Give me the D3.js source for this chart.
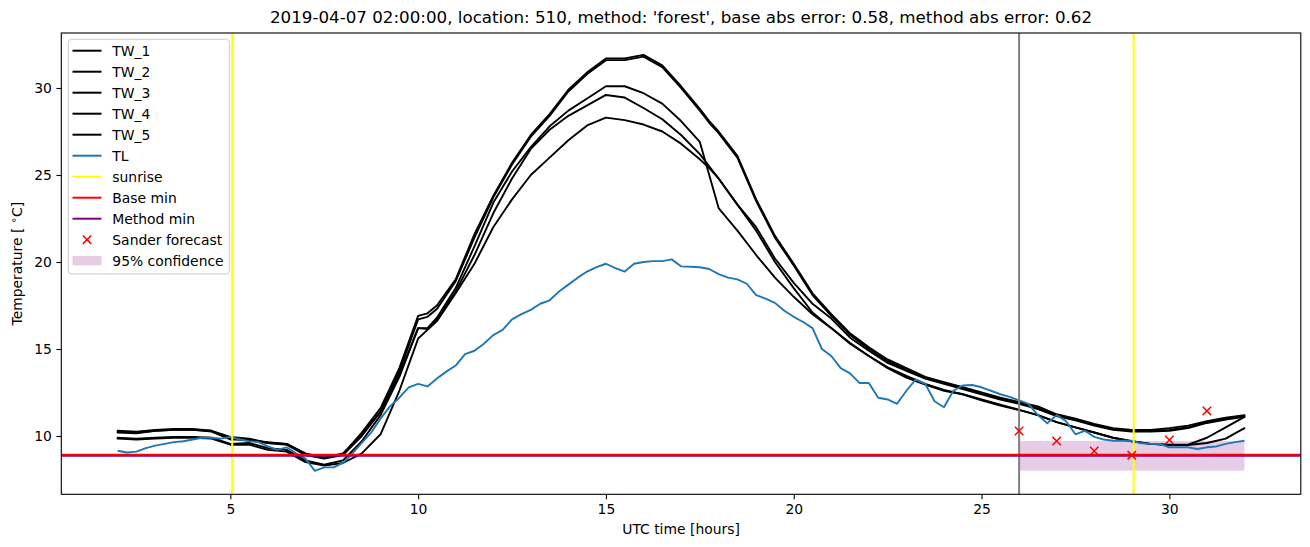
<!DOCTYPE html>
<html>
<head>
<meta charset="utf-8">
<script src="https://cdn.jsdelivr.net/npm/d3@7"></script>
<style>
  html, body { margin: 0; padding: 0; background: #fff; }
  svg { display: block; font-family: "DejaVu Sans", sans-serif; }
</style>
</head>
<body>
<svg id="chart" width="1310" height="547"></svg>
<script>
// ---------------- data ----------------
const titleText = "2019-04-07 02:00:00, location: 510, method: 'forest', base abs error: 0.58, method abs error: 0.62";
const xTicks = [5, 10, 15, 20, 25, 30];
const yTicks = [10, 15, 20, 25, 30];

// TW sample times (half-hourly, plus 10.25 and 17.75 where the curves bend sharply)
const hoursTW = [2,2.5,3,3.5,4,4.5,5,5.5,6,6.5,
  7,7.5,8,8.5,9,9.5,10,10.25,10.5,11,11.5,
  12,12.5,13,13.5,14,14.5,15,15.5,16,16.5,
  17,17.5,17.75,18,18.5,19,19.5,20,20.5,21,21.5,
  22,22.5,23,23.5,24,24.5,25,25.5,26,26.5,
  27,27.5,28,28.5,29,29.5,30,30.5,31,31.5,
  32];
const hoursTL = d3.range(2, 32.001, 0.25);  // 121 samples

const TW_1 = [10.3,10.25,10.35,10.4,10.4,10.3,9.95,9.85,9.6,9.55,
  9.0,8.75,8.95,10.2,11.6,13.9,16.9,17.05,17.5,19.0,21.6,
  23.8,25.7,27.3,28.5,29.9,30.9,31.7,31.7,31.9,31.3,
  30.1,28.8,28.1,27.5,26.1,23.6,21.5,19.9,18.2,17.0,15.9,
  15.1,14.4,13.9,13.4,13.1,12.8,12.5,12.2,11.95,11.7,
  11.25,11.0,10.7,10.45,10.35,10.35,10.45,10.6,10.85,11.05,
  11.2];
const TW_2 = [10.2,10.15,10.3,10.35,10.35,10.25,9.8,9.8,9.6,9.5,
  8.9,8.7,8.9,10.0,11.4,13.7,16.7,16.85,17.3,18.9,21.4,
  23.7,25.6,27.2,28.4,29.8,30.8,31.6,31.6,31.8,31.2,
  30.0,28.7,28.0,27.4,26.0,23.5,21.4,19.8,18.1,16.9,15.8,
  15.0,14.3,13.8,13.35,13.05,12.75,12.45,12.15,11.9,11.6,
  11.2,10.95,10.65,10.4,10.3,10.3,10.35,10.5,10.8,11.0,
  11.15];
const TW_3 = [9.9,9.85,9.9,9.95,9.95,9.9,9.55,9.6,9.3,9.2,
  8.6,8.35,8.6,9.7,11.2,13.4,16.2,16.2,16.8,18.5,20.9,
  23.4,25.2,26.6,27.8,28.7,29.4,30.1,30.1,29.7,29.1,
  28.1,26.9,25.0,23.1,21.8,20.4,19.1,18.0,17.0,16.2,15.35,
  14.6,13.9,13.35,12.95,12.6,12.4,12.05,11.75,11.5,11.2,
  10.8,10.5,10.2,9.9,9.7,9.55,9.48,9.48,9.6,9.85,
  10.45];
const TW_4 = [10.25,10.2,10.3,10.35,10.35,10.3,9.85,9.75,9.65,9.55,
  8.95,8.75,9.0,10.1,11.4,13.5,16.2,16.15,16.7,18.3,20.4,
  22.8,24.8,26.5,27.6,28.4,29.0,29.6,29.45,28.85,28.2,
  27.3,26.2,25.5,24.8,23.3,22.0,20.2,18.8,17.6,16.75,15.65,
  14.9,14.2,13.75,13.3,13.0,12.7,12.4,12.1,11.85,11.55,
  11.15,10.9,10.6,10.35,10.25,10.25,10.3,10.45,10.75,10.95,
  11.1];
const TW_5 = [9.85,9.8,9.85,9.9,9.9,9.85,9.5,9.5,9.2,9.1,
  8.5,8.3,8.45,9.0,10.1,12.6,15.6,16.1,16.6,18.2,19.9,
  22.0,23.6,25.0,26.0,27.0,27.85,28.3,28.15,27.9,27.5,
  26.8,25.9,25.4,24.8,23.3,21.8,20.0,18.5,17.1,16.2,15.3,
  14.6,13.95,13.45,13.0,12.65,12.4,12.1,11.8,11.5,11.2,
  10.8,10.5,10.2,9.9,9.7,9.55,9.5,9.5,9.9,10.5,
  11.1];
const TL = [9.15,9.05,9.1,9.3,9.45,9.55,9.65,9.7,
  9.8,9.9,9.9,9.85,9.95,9.8,9.7,9.65,
  9.4,9.2,9.35,9.0,8.7,8.0,8.2,8.2,
  8.45,9.0,9.6,10.2,11.0,11.7,12.2,12.8,
  13.0,12.85,13.3,13.7,14.05,14.7,14.9,15.3,
  15.8,16.1,16.7,17.0,17.25,17.6,17.8,18.3,
  18.7,19.1,19.45,19.7,19.9,19.65,19.45,19.9,
  20.0,20.05,20.05,20.15,19.75,19.73,19.7,19.6,
  19.3,19.1,19.0,18.75,18.1,17.9,17.65,17.2,
  16.85,16.55,16.2,15.0,14.6,13.9,13.6,13.05,
  13.05,12.2,12.1,11.85,12.6,13.25,13.0,12.0,
  11.65,12.6,12.9,12.93,12.8,12.6,12.4,12.25,
  12.05,11.85,11.2,10.73,11.2,10.85,10.1,10.3,
  9.95,9.8,9.73,9.73,9.73,9.58,9.55,9.54,
  9.35,9.35,9.35,9.25,9.35,9.4,9.55,9.65,
  9.73];

const sunrise = [5.05, 29.05];
const forecastStart = 26;
const baseMin = 8.92;
const methodMin = 8.86;
const sanderHours = [26, 27, 28, 29, 30, 31];
const sanderValues = [10.29, 9.71, 9.14, 8.9, 9.77, 11.44];
const confHours = [26, 32];
const confLow = 8.01;
const confHigh = 9.71;

const legendLabels = ["TW_1","TW_2","TW_3","TW_4","TW_5","TL","sunrise","Base min","Method min","Sander forecast","95% confidence"];

// ---------------- layout ----------------
const svg = d3.select("#chart");
const L = 61.3, R = 1300.8, T = 33, B = 494.3;
const x = d3.scaleLinear().domain([0.5, 33.5]).range([L, R]);
const y = d3.scaleLinear().domain([6.65, 33.16]).range([B, T]);

const clipId = "plotclip";
svg.append("clipPath").attr("id", clipId).append("rect")
  .attr("x", L).attr("y", T).attr("width", R - L).attr("height", B - T);
const plot = svg.append("g").attr("clip-path", `url(#${clipId})`);

const C_TL = "#1f77b4", C_PURPLE = "#800080";

// confidence band
plot.append("rect")
  .attr("x", x(confHours[0])).attr("width", x(confHours[1]) - x(confHours[0]))
  .attr("y", y(confHigh)).attr("height", y(confLow) - y(confHigh))
  .attr("fill", C_PURPLE).attr("fill-opacity", 0.2);

const line = d3.line().x(d => x(d[0])).y(d => y(d[1]));
[TW_1, TW_2, TW_3, TW_4, TW_5].forEach(s => {
  plot.append("path").datum(hoursTW.map((h, i) => [h, s[i]]))
    .attr("d", line).attr("fill", "none").attr("stroke", "#000")
    .attr("stroke-width", 1.9).attr("stroke-linejoin", "round").attr("stroke-linecap", "round");
});
plot.append("path").datum(hoursTL.map((h, i) => [h, TL[i]]))
  .attr("d", line).attr("fill", "none").attr("stroke", C_TL)
  .attr("stroke-width", 1.9).attr("stroke-linejoin", "round");

// sunrise lines
sunrise.forEach(h => plot.append("line")
  .attr("x1", x(h)).attr("x2", x(h)).attr("y1", T).attr("y2", B)
  .attr("stroke", "#ffff00").attr("stroke-width", 2));
// forecast start
plot.append("line").attr("x1", x(forecastStart)).attr("x2", x(forecastStart))
  .attr("y1", T).attr("y2", B).attr("stroke", "#808080").attr("stroke-width", 2);

// min lines
plot.append("line").attr("x1", L).attr("x2", R).attr("y1", y(methodMin)).attr("y2", y(methodMin))
  .attr("stroke", C_PURPLE).attr("stroke-width", 2);
plot.append("line").attr("x1", L).attr("x2", R).attr("y1", y(baseMin)).attr("y2", y(baseMin))
  .attr("stroke", "#ff0000").attr("stroke-width", 2);

// sander forecast x markers
function xMark(g, cx, cy, r) {
  g.append("path").attr("d", `M${cx - r},${cy - r}L${cx + r},${cy + r}M${cx - r},${cy + r}L${cx + r},${cy - r}`)
    .attr("stroke", "#ff0000").attr("stroke-width", 1.5).attr("fill", "none");
}
sanderHours.forEach((h, i) => xMark(plot, x(h), y(sanderValues[i]), 4.2));

// ---------------- axes ----------------
const xAxis = d3.axisBottom(x).tickValues(xTicks).tickSize(4.9).tickPadding(4.5).tickFormat(d3.format("d"));
const yAxis = d3.axisLeft(y).tickValues(yTicks).tickSize(4.9).tickPadding(4.5).tickFormat(d3.format("d"));
const gx = svg.append("g").attr("transform", `translate(0,${B})`).call(xAxis);
const gy = svg.append("g").attr("transform", `translate(${L},0)`).call(yAxis);
[gx, gy].forEach(g => {
  g.select(".domain").remove();
  g.selectAll("text").attr("font-family", "DejaVu Sans").attr("font-size", "13.9px").attr("fill", "#000");
  g.selectAll("line").attr("stroke", "#000").attr("stroke-width", 1.1);
});
// spines
svg.append("rect").attr("x", L).attr("y", T).attr("width", R - L).attr("height", B - T)
  .attr("fill", "none").attr("stroke", "#000").attr("stroke-width", 1.1);

// labels
svg.append("text").attr("x", (L + R) / 2).attr("y", 23).attr("text-anchor", "middle")
  .attr("font-size", "16.7px").text(titleText);
svg.append("text").attr("x", (L + R) / 2).attr("y", 534).attr("text-anchor", "middle")
  .attr("font-size", "13.9px").text("UTC time [hours]");
const yl = svg.append("text").attr("transform", `translate(22,${(T + B) / 2}) rotate(-90)`)
  .attr("text-anchor", "middle").attr("font-size", "13.9px");
yl.append("tspan").text("Temperature [ ");
yl.append("tspan").attr("font-size", "10px").attr("dy", "-5").text("∘");
yl.append("tspan").attr("dy", "5").text("C]");

// ---------------- legend ----------------
const lg = svg.append("g");
lg.append("rect").attr("x", 68.3).attr("y", 39.3).attr("width", 161).attr("height", 234.7)
  .attr("rx", 3).attr("fill", "#fff").attr("fill-opacity", 0.8)
  .attr("stroke", "#cccccc").attr("stroke-width", 1);
const rowY = i => 50.7 + i * 21;
const hx0 = 72.5, hx1 = 101.5, tx = 112.3;
const legendStroke = ["#000", "#000", "#000", "#000", "#000", C_TL, "#ffff00", "#ff0000", C_PURPLE];
legendLabels.forEach((lab, i) => {
  const yy = rowY(i);
  if (i < legendStroke.length) {
    lg.append("line").attr("x1", hx0).attr("x2", hx1).attr("y1", yy).attr("y2", yy)
      .attr("stroke", legendStroke[i]).attr("stroke-width", 2);
  } else if (i === 9) {
    xMark(lg, (hx0 + hx1) / 2, yy, 4.2);
  } else {
    lg.append("rect").attr("x", hx0).attr("y", yy - 4.6).attr("width", hx1 - hx0).attr("height", 9.2)
      .attr("fill", C_PURPLE).attr("fill-opacity", 0.2);
  }
  lg.append("text").attr("x", tx).attr("y", yy).attr("dy", "0.36em").attr("font-size", "13.9px").text(lab);
});
</script>
</body>
</html>
